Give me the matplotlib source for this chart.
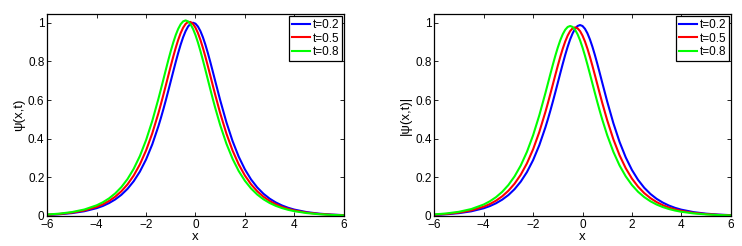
"""
Soliton profiles at three times: psi(x,t) and |psi(x,t)|
"""

import matplotlib
matplotlib.use("Agg")
import matplotlib.pyplot as plt

plt.rcParams['font.family'] = ['Liberation Sans', 'DejaVu Sans']

# --------------------------------
# Data
# --------------------------------
x = [-6, -5.5, -5, -4.5, -4, -3.75, -3.5, -3.25, -3, -2.75, -2.5, -2.25, -2, -1.75,
     -1.5, -1.4, -1.3, -1.2, -1.1, -1.0, -0.9, -0.8, -0.7, -0.6, -0.5, -0.4,
     -0.3, -0.2, -0.1, 0, 0.1, 0.2, 0.3, 0.4, 0.5, 0.6, 0.7, 0.8,
     1.0, 1.25, 1.5, 1.75, 2, 2.25, 2.5, 2.75, 3, 3.25, 3.5, 3.75, 4, 4.5, 5, 5.5, 6]

labels = ["t=0.2", "t=0.5", "t=0.8"]
colors = ["#0000ff", "#ff0000", "#00ff00"]

# left panel: psi(x,t)
psi_t02 = [0.0055, 0.0090, 0.0149, 0.0246, 0.0405, 0.0519, 0.0667, 0.0856, 0.1097, 0.1406,
           0.1800, 0.2298, 0.2926, 0.3704,
           0.4649, 0.5074, 0.5523, 0.5993, 0.6481, 0.6978, 0.7477, 0.7967, 0.8436, 0.8868,
           0.9250, 0.9566, 0.9803, 0.9950, 1.0000, 0.9950, 0.9803, 0.9566, 0.9250, 0.8868,
           0.8436, 0.7967, 0.7477, 0.6978,
           0.5993, 0.4858, 0.3880, 0.3069, 0.2413, 0.1890, 0.1477, 0.1153, 0.0899, 0.0701,
           0.0546, 0.0425, 0.0331, 0.0201, 0.0122, 0.0074, 0.0045]
psi_t05 = [0.0064, 0.0106, 0.0174, 0.0286, 0.0472, 0.0606, 0.0778, 0.0998, 0.1279, 0.1639,
           0.2095, 0.2671, 0.3391, 0.4272,
           0.5321, 0.5785, 0.6266, 0.6762, 0.7264, 0.7763, 0.8246, 0.8700, 0.9111, 0.9464,
           0.9743, 0.9938, 1.0038, 1.0038, 0.9938, 0.9743, 0.9464, 0.9111, 0.8700, 0.8246,
           0.7763, 0.7264, 0.6762, 0.6266,
           0.5321, 0.4272, 0.3391, 0.2671, 0.2095, 0.1639, 0.1279, 0.0998, 0.0778, 0.0606,
           0.0472, 0.0368, 0.0286, 0.0174, 0.0106, 0.0064, 0.0039]
psi_t08 = [0.0075, 0.0123, 0.0203, 0.0335, 0.0553, 0.0709, 0.0910, 0.1167, 0.1495, 0.1913,
           0.2442, 0.3106, 0.3927, 0.4916,
           0.6065, 0.6559, 0.7062, 0.7567, 0.8063, 0.8537, 0.8974, 0.9361, 0.9681, 0.9921,
           1.0069, 1.0120, 1.0069, 0.9921, 0.9681, 0.9361, 0.8974, 0.8537, 0.8063, 0.7567,
           0.7062, 0.6559, 0.6065, 0.5589,
           0.4705, 0.3748, 0.2961, 0.2326, 0.1822, 0.1423, 0.1110, 0.0866, 0.0675, 0.0525,
           0.0410, 0.0319, 0.0249, 0.0151, 0.0091, 0.0056, 0.0033]

# right panel: |psi(x,t)|
abs_t02 = [0.0054, 0.0089, 0.0147, 0.0243, 0.0400, 0.0513, 0.0659, 0.0846, 0.1084, 0.1389,
           0.1778, 0.2270, 0.2891, 0.3660,
           0.4593, 0.5013, 0.5457, 0.5921, 0.6403, 0.6894, 0.7387, 0.7871, 0.8335, 0.8762,
           0.9139, 0.9451, 0.9685, 0.9831, 0.9880, 0.9831, 0.9685, 0.9451, 0.9139, 0.8762,
           0.8335, 0.7871, 0.7387, 0.6894,
           0.5921, 0.4800, 0.3833, 0.3032, 0.2384, 0.1867, 0.1459, 0.1139, 0.0888, 0.0693,
           0.0539, 0.0420, 0.0327, 0.0199, 0.0121, 0.0073, 0.0044]
abs_t05 = [0.0065, 0.0107, 0.0178, 0.0293, 0.0482, 0.0619, 0.0794, 0.1019, 0.1306, 0.1672,
           0.2136, 0.2722, 0.3451, 0.4340,
           0.5390, 0.5849, 0.6325, 0.6811, 0.7298, 0.7776, 0.8234, 0.8655, 0.9028, 0.9336,
           0.9568, 0.9711, 0.9760, 0.9711, 0.9568, 0.9336, 0.9028, 0.8655, 0.8234, 0.7776,
           0.7298, 0.6811, 0.6325, 0.5849,
           0.4952, 0.3965, 0.3141, 0.2472, 0.1937, 0.1515, 0.1183, 0.0924, 0.0719, 0.0560,
           0.0436, 0.0340, 0.0264, 0.0161, 0.0098, 0.0060, 0.0036]
abs_t08 = [0.0081, 0.0133, 0.0218, 0.0360, 0.0593, 0.0761, 0.0976, 0.1251, 0.1603, 0.2050,
           0.2613, 0.3317, 0.4179, 0.5205,
           0.6371, 0.6859, 0.7350, 0.7832, 0.8293, 0.8717, 0.9093, 0.9403, 0.9636, 0.9781,
           0.9830, 0.9781, 0.9636, 0.9403, 0.9093, 0.8717, 0.8293, 0.7832, 0.7350, 0.6859,
           0.6371, 0.5891, 0.5429, 0.4988,
           0.4179, 0.3317, 0.2613, 0.2050, 0.1603, 0.1251, 0.0976, 0.0761, 0.0593, 0.0462,
           0.0360, 0.0280, 0.0218, 0.0133, 0.0081, 0.0049, 0.0029]

xticks = [-6, -4, -2, 0, 2, 4, 6]
yticks = [0, 0.2, 0.4, 0.6, 0.8, 1]
yticklabels = ["0", "0.2", "0.4", "0.6", "0.8", "1"]

# --------------------------------
# Plotting
# --------------------------------
fig = plt.figure(figsize=(7.42, 2.46), dpi=100)
ax1 = fig.add_axes([0.0637, 0.122, 0.3995, 0.821])
ax2 = fig.add_axes([0.5853, 0.122, 0.3995, 0.821])


def style_panel(ax, series, ylabel):
    for ys, lab, col in zip(series, labels, colors):
        ax.plot(x, ys, color=col, lw=1.5, label=lab)
    ax.set_xlim(-6, 6)
    ax.set_ylim(0, 1.045)
    ax.set_xticks(xticks)
    ax.set_yticks(yticks)
    ax.set_yticklabels(yticklabels)
    ax.tick_params(direction="in", top=True, right=True, length=3,
                   width=0.6, labelsize=8.5, pad=2)
    for sp in ax.spines.values():
        sp.set_linewidth(0.9)
    ax.set_xlabel("x", fontsize=9.5, labelpad=0.5)
    ax.set_ylabel(ylabel, fontsize=9.5, labelpad=2)
    leg = ax.legend(loc="upper right", fontsize=8.5, handlelength=1.5,
                    handletextpad=0.2, borderpad=0.25, labelspacing=0.15,
                    borderaxespad=0.15, fancybox=False, framealpha=1)
    leg.get_frame().set_edgecolor("black")
    leg.get_frame().set_linewidth(0.9)


style_panel(ax1, [psi_t02, psi_t05, psi_t08], "ψ(x,t)")
style_panel(ax2, [abs_t02, abs_t05, abs_t08], "|ψ(x,t)|")

fig.savefig("out.png", dpi=100)
